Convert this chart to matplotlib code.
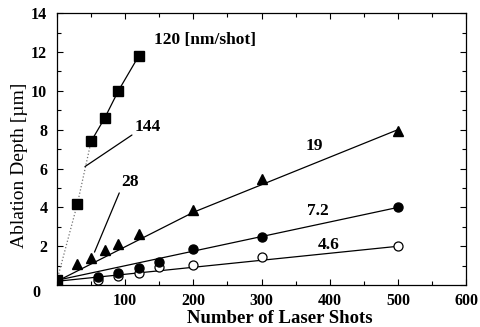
import matplotlib.pyplot as plt
from matplotlib.ticker import MultipleLocator

plt.rcParams['font.family'] = ['Liberation Serif', 'DejaVu Serif']

# data (shots, depth in um)
sq_x = [0, 30, 50, 70, 90, 120]
sq_y = [0.25, 4.2, 7.4, 8.6, 10.0, 11.8]
tri_x = [0, 30, 50, 70, 90, 120, 200, 300, 500]
tri_y = [0.25, 1.1, 1.4, 1.8, 2.1, 2.65, 3.85, 5.45, 7.95]
fc_x = [0, 60, 90, 120, 150, 200, 300, 500]
fc_y = [0.25, 0.42, 0.62, 0.88, 1.2, 1.85, 2.5, 4.0]
oc_x = [60, 90, 120, 150, 200, 300, 500]
oc_y = [0.28, 0.45, 0.62, 0.93, 1.05, 1.45, 2.0]

# drawn lines
init_x = [0, 30, 50]          # dotted initial part (144 nm/shot)
init_y = [0.25, 4.2, 7.4]
fit19_x = [0, 200, 500]
fit19_y = [0.2, 3.75, 8.0]
fit72_x = [0, 500]
fit72_y = [0.25, 4.0]
fit46_x = [0, 500]
fit46_y = [0.2, 2.0]

yticks = [0, 2, 4, 6, 8, 10, 12, 14]
xticks = [100, 200, 300, 400, 500, 600]

fig = plt.figure(figsize=(4.81, 3.27), dpi=100)
ax = fig.add_axes([0.1185, 0.128, 0.8505, 0.832])

ax.plot(init_x, init_y, ':', color='0.45', lw=0.9)
ax.plot(sq_x[2:], sq_y[2:], '-', color='black', lw=0.9)
ax.plot(fit19_x, fit19_y, '-', color='black', lw=0.9)
ax.plot(fit72_x, fit72_y, '-', color='black', lw=0.9)
ax.plot(fit46_x, fit46_y, '-', color='black', lw=0.9)

ax.plot(oc_x, oc_y, 'o', mfc='white', mec='black', ms=6.5, mew=0.9)
ax.plot(fc_x, fc_y, 'o', color='black', ms=6.5)
ax.plot(tri_x, tri_y, '^', color='black', ms=7)
ax.plot(sq_x, sq_y, 's', color='black', ms=6.5)

lab = dict(fontsize=12.5, fontweight='bold', va='center', ha='left')
ax.text(143, 12.6, '120 [nm/shot]', **lab)
ax.annotate('144', xy=(41, 6.1), xytext=(114, 8.15), fontsize=12.5, fontweight='bold',
            va='center', ha='left',
            arrowprops=dict(arrowstyle='-', color='black', lw=0.9, relpos=(0, 0.1),
                            shrinkA=0, shrinkB=0))
ax.annotate('28', xy=(55, 1.7), xytext=(94, 5.3), fontsize=12.5, fontweight='bold',
            va='center', ha='left',
            arrowprops=dict(arrowstyle='-', color='black', lw=0.9, relpos=(0, 0.1),
                            shrinkA=0, shrinkB=0))
ax.text(364, 7.15, '19', **lab)
ax.text(366, 3.82, '7.2', **lab)
ax.text(383, 2.08, '4.6', **lab)

ax.set_xlim(0, 600)
ax.set_ylim(0, 14)
ax.set_xticks(xticks)
ax.set_yticks(yticks, labels=[''] + [str(v) for v in yticks[1:]])
ax.xaxis.set_minor_locator(MultipleLocator(50))
ax.yaxis.set_minor_locator(MultipleLocator(1))
ax.tick_params(which='both', direction='in', top=True, right=True, width=0.8)
ax.tick_params(which='major', length=4, labelsize=11.5)
ax.tick_params(axis='x', which='major', pad=6)
ax.tick_params(axis='y', which='major', pad=7)
ax.tick_params(which='minor', length=3)
for t in ax.get_xticklabels() + ax.get_yticklabels():
    t.set_fontweight('bold')
for s in ax.spines.values():
    s.set_linewidth(0.9)
# origin label sits a little below the axis
ax.annotate('0', xy=(0, 0), xycoords='axes fraction', xytext=(-14.5, -5.8),
            textcoords='offset points', ha='center', va='center',
            fontsize=11.5, fontweight='bold')

ax.set_xlabel('Number of Laser Shots', fontsize=13.5, fontweight='bold')
ax.xaxis.set_label_coords(0.545, -0.09)
ax.set_ylabel('Ablation Depth [µm]', fontsize=14)
ax.yaxis.set_label_coords(-0.072, 0.44)

fig.savefig('out.png', dpi=100)
